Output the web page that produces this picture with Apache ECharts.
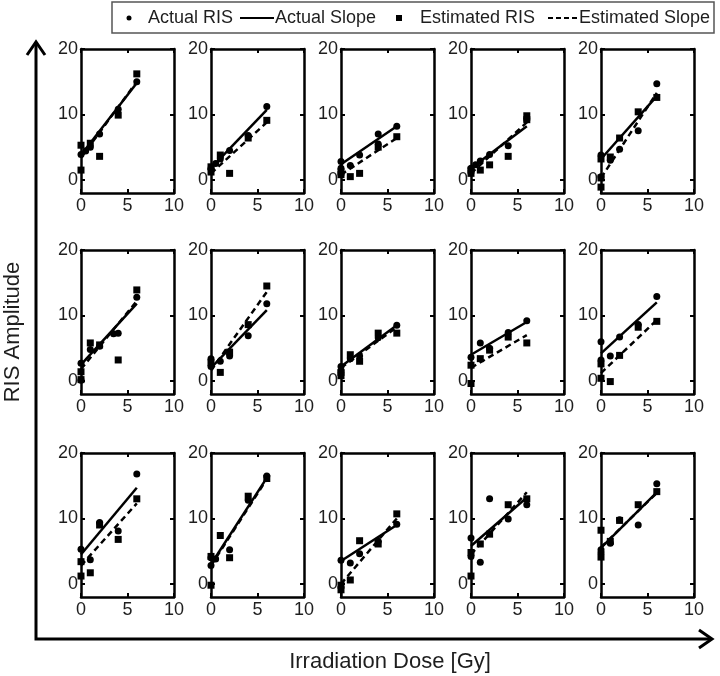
<!DOCTYPE html>
<html><head><meta charset="utf-8">
<script src="https://cdn.jsdelivr.net/npm/echarts@6/dist/echarts.min.js"></script>
<style>html,body{margin:0;padding:0;background:#fff}#c{width:720px;height:676px}</style>
</head><body><div id="c"></div>
<script>
// ---- data ----
const xTicks = [0, 5, 10];
const yTicks = [0, 10, 20];
const legendNames = ['Actual RIS', 'Actual Slope', 'Estimated RIS', 'Estimated Slope'];
const xTitle = 'Irradiation Dose [Gy]';
const yTitle = 'RIS Amplitude';

// Actual RIS points per panel (row-major, 3 rows x 5 cols): [dose, amplitude]
const actualRIS = [
  [[0,3.9],[0.5,4.4],[1,5.0],[2,7.0],[4,10.8],[6,15.0]],
  [[0,1.8],[0.5,2.5],[1,3.2],[2,4.5],[4,6.8],[6,11.2]],
  [[0,2.8],[0,1.8],[1,2.2],[2,3.8],[4,7.0],[4,5.5],[6,8.2]],
  [[0,1.8],[0.5,2.3],[1,2.9],[2,3.9],[4,5.2],[6,9.2]],
  [[0,3.8],[0,0.5],[1,3.0],[2,4.7],[4,7.5],[6,14.7]],
  [[0,2.7],[0,0.1],[1,4.8],[2,5.3],[3.5,7.2],[4,7.3],[6,12.8]],
  [[0,3.4],[0,2.2],[1,3.0],[2,3.8],[4,6.9],[6,11.8]],
  [[0,2.2],[0,1.5],[1,3.4],[2,3.8],[4,6.6],[6,8.5]],
  [[0,3.6],[1,5.8],[2,5.0],[4,7.4],[6,9.2]],
  [[0,6.0],[0,3.2],[1,3.8],[2,6.7],[4,8.6],[6,12.9]],
  [[0,5.3],[1,3.7],[2,9.4],[4,8.1],[6,16.8]],
  [[0,4.0],[0,2.8],[0.5,3.8],[2,5.2],[4,12.8],[6,16.5]],
  [[0,3.6],[1,3.2],[2,4.6],[4,6.5],[6,9.1]],
  [[0,7.0],[0,4.2],[1,3.3],[2,13.0],[4,9.9],[6,12.1]],
  [[0,5.2],[0,4.8],[1,6.2],[2,9.8],[4,9.0],[6,15.3]]
];
// Estimated RIS points per panel
const estimatedRIS = [
  [[0,5.3],[0,1.5],[1,5.6],[2,3.6],[4,9.9],[6,16.2]],
  [[0,1.2],[0,2.0],[1,3.8],[2,1.0],[4,6.4],[6,9.1]],
  [[0,1.2],[0,0.8],[1,0.5],[2,1.0],[4,5.0],[6,6.6]],
  [[0,1.5],[0,1.0],[1,1.5],[2,2.3],[4,3.6],[6,9.8],[6,9.2]],
  [[0,3.2],[0,0.3],[0,-1.1],[1,3.5],[2,6.4],[4,10.4],[6,12.6]],
  [[0,1.4],[0,0.2],[1,5.8],[2,5.5],[4,3.2],[6,13.9]],
  [[0,2.8],[1,1.3],[2,4.4],[4,8.6],[6,14.5]],
  [[0,1.3],[0,0.8],[1,4.0],[2,3.0],[4,7.3],[6,7.3]],
  [[0,2.4],[0,-0.4],[1,3.4],[2,4.7],[4,6.7],[6,5.8]],
  [[0,2.6],[0,0.4],[1,-0.1],[2,3.9],[4,8.2],[6,9.1]],
  [[0,3.4],[0,1.2],[1,1.7],[2,9.0],[4,6.8],[6,13.0]],
  [[0,4.2],[0,-0.2],[1,7.4],[2,4.0],[4,13.4],[6,16.1]],
  [[0,-0.2],[0,-0.9],[1,0.6],[2,6.6],[4,6.1],[6,10.7]],
  [[0,1.2],[0,4.8],[1,6.1],[2,7.6],[4,12.1],[6,13.0]],
  [[0,8.2],[0,4.1],[1,6.5],[2,9.7],[4,12.1],[6,14.1]]
];
// Fitted slope lines: [start at dose 0, end at dose 6]
const actualSlope = [
  [[0,3.8],[6,14.8]],[[0,1.8],[6,10.7]],[[0,2.4],[6,8.2]],[[0,1.8],[6,8.2]],[[0,3.2],[6,12.8]],
  [[0,2.5],[6,11.8]],[[0,2.0],[6,10.8]],[[0,2.2],[6,8.5]],[[0,4.0],[6,9.0]],[[0,4.2],[6,12.0]],
  [[0,4.5],[6,14.7]],[[0,3.0],[6,16.2]],[[0,3.5],[6,9.0]],[[0,5.8],[6,13.2]],[[0,5.5],[6,14.0]]
];
const estimatedSlope = [
  [[0,3.4],[6,15.0]],[[0,1.0],[6,8.8]],[[0,0.8],[6,6.4]],[[0,1.0],[6,8.8]],[[0,0.3],[6,13.3]],
  [[0,1.8],[6,12.2]],[[0,1.6],[6,13.6]],[[0,2.0],[6,8.2]],[[0,2.0],[6,7.0]],[[0,1.2],[6,9.3]],
  [[0,2.8],[6,12.3]],[[0,2.8],[6,16.0]],[[0,0.0],[6,10.0]],[[0,4.5],[6,14.0]],[[0,5.6],[6,13.9]]
];

// ---- layout / style ----
const FONT = "'Liberation Sans', Arial, sans-serif";
const TXT = '#1e1e1e';
const colLeft = [81, 211, 341, 471, 601];
const rowTop = [49, 250, 453];
const boxW = 93, boxH = 144;

const grids = [], xAxes = [], yAxes = [], series = [];
for (let i = 0; i < 15; i++) {
  const r = Math.floor(i / 5), c = i % 5;
  grids.push({ left: colLeft[c], top: rowTop[r], width: boxW, height: boxH, containLabel: false });
  const tick = { show: true, inside: true, length: 4, lineStyle: { color: '#000', width: 2 } };
  const line = { show: true, onZero: false, lineStyle: { color: '#000', width: 2.5 } };
  xAxes.push({ gridIndex: i, type: 'value', position: 'bottom', min: 0, max: 10, interval: 5,
    axisLine: line, axisTick: tick, splitLine: { show: false },
    axisLabel: { color: TXT, fontSize: 18, fontFamily: FONT, margin: 4, showMinLabel: true, showMaxLabel: true } });
  xAxes.push({ gridIndex: i, type: 'value', position: 'top', min: 0, max: 10, interval: 5,
    axisLine: line, axisTick: tick, splitLine: { show: false }, axisLabel: { show: false } });
  yAxes.push({ gridIndex: i, type: 'value', position: 'left', min: -2, max: 20,
    axisLine: line, axisTick: Object.assign({ customValues: yTicks }, tick), splitLine: { show: false },
    axisLabel: { customValues: yTicks, color: TXT, fontSize: 18, fontFamily: FONT, margin: 3 } });
  yAxes.push({ gridIndex: i, type: 'value', position: 'right', min: -2, max: 20,
    axisLine: line, axisTick: Object.assign({ customValues: yTicks }, tick), splitLine: { show: false },
    axisLabel: { show: false } });
  const xi = 2 * i, yi = 2 * i;
  series.push({ type: 'line', name: legendNames[1], xAxisIndex: xi, yAxisIndex: yi, data: actualSlope[i],
    showSymbol: false, lineStyle: { color: '#000', width: 2.5, type: 'solid' }, z: 3 });
  series.push({ type: 'line', name: legendNames[3], xAxisIndex: xi, yAxisIndex: yi, data: estimatedSlope[i],
    showSymbol: false, lineStyle: { color: '#000', width: 2.5, type: [6, 4] }, z: 3 });
  series.push({ type: 'scatter', name: legendNames[0], xAxisIndex: xi, yAxisIndex: yi, data: actualRIS[i],
    symbol: 'circle', symbolSize: 7, itemStyle: { color: '#000', opacity: 1 }, z: 4 });
  series.push({ type: 'scatter', name: legendNames[2], xAxisIndex: xi, yAxisIndex: yi, data: estimatedRIS[i],
    symbol: 'rect', symbolSize: 7, itemStyle: { color: '#000', opacity: 1 }, z: 4 });
}

const graphic = [
  // legend box
  { type: 'rect', shape: { x: 112, y: 2, width: 602, height: 31 }, style: { fill: '#fff', stroke: '#555', lineWidth: 1.5 }, z: 10 },
  { type: 'circle', shape: { cx: 129, cy: 18, r: 2.5 }, style: { fill: '#000' }, z: 11 },
  { type: 'text', x: 148, y: 18, style: { text: legendNames[0], fontSize: 18, fontFamily: FONT, fill: TXT, verticalAlign: 'middle' }, z: 11 },
  { type: 'line', shape: { x1: 240, y1: 18, x2: 274, y2: 18 }, style: { stroke: '#000', lineWidth: 2 }, z: 11 },
  { type: 'text', x: 275, y: 18, style: { text: legendNames[1], fontSize: 18, fontFamily: FONT, fill: TXT, verticalAlign: 'middle' }, z: 11 },
  { type: 'rect', shape: { x: 396, y: 15, width: 6, height: 6 }, style: { fill: '#000' }, z: 11 },
  { type: 'text', x: 420, y: 18, style: { text: legendNames[2], fontSize: 18, fontFamily: FONT, fill: TXT, verticalAlign: 'middle' }, z: 11 },
  { type: 'line', shape: { x1: 548, y1: 18, x2: 578, y2: 18 }, style: { stroke: '#000', lineWidth: 2, lineDash: [5, 3] }, z: 11 },
  { type: 'text', x: 579, y: 18, style: { text: legendNames[3], fontSize: 18, fontFamily: FONT, fill: TXT, verticalAlign: 'middle' }, z: 11 },
  // big axes with arrows
  { type: 'polyline', shape: { points: [[36, 42], [36, 639], [711, 639]] }, style: { stroke: '#000', lineWidth: 3, fill: null } },
  { type: 'polyline', shape: { points: [[27, 55], [36, 42], [45, 55]] }, style: { stroke: '#000', lineWidth: 3, fill: null } },
  { type: 'polyline', shape: { points: [[699, 630], [712, 639], [699, 648]] }, style: { stroke: '#000', lineWidth: 3, fill: null } },
  // axis titles
  { type: 'text', x: 390, y: 662, style: { text: xTitle, fontSize: 22, fontFamily: FONT, fill: TXT, align: 'center', verticalAlign: 'middle' } },
  { type: 'text', x: 13, y: 332, rotation: Math.PI / 2, style: { text: yTitle, fontSize: 22, fontFamily: FONT, fill: TXT, align: 'center', verticalAlign: 'middle' } }
];

const chart = echarts.init(document.getElementById('c'), null, { renderer: 'canvas' });
chart.setOption({ animation: false, backgroundColor: '#fff', grid: grids, xAxis: xAxes, yAxis: yAxes, series: series, graphic: graphic });
</script>
</body></html>
